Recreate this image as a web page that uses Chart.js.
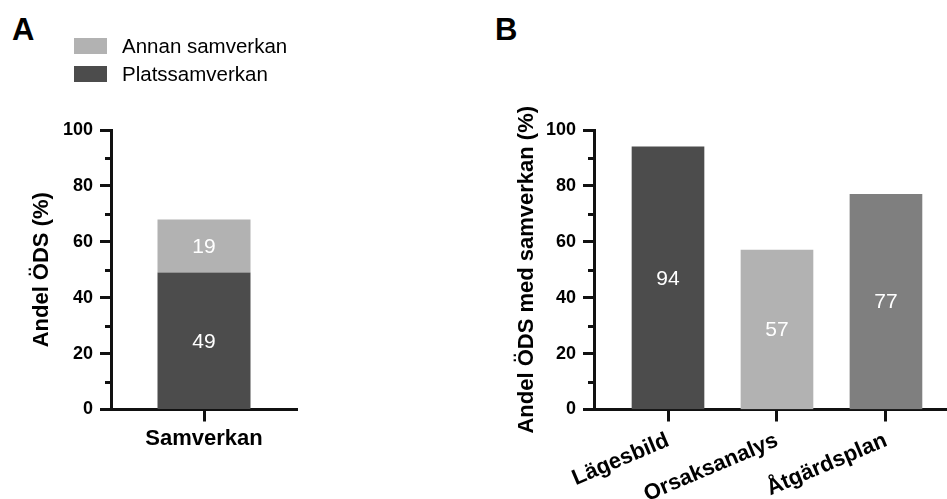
<!DOCTYPE html>
<html><head><meta charset="utf-8">
<script src="https://cdn.jsdelivr.net/npm/chart.js@4/dist/chart.umd.min.js"></script>
<style>
html,body{margin:0;padding:0;background:#fff;}
body{width:947px;height:499px;position:relative;overflow:hidden;font-family:"Liberation Sans",Arial,sans-serif;color:#000;}
#wa{position:absolute;left:0;top:0;width:320px;height:499px;}
#wb{position:absolute;left:470px;top:0;width:477px;height:499px;}
.panel{position:absolute;font-weight:bold;font-size:31px;line-height:30px;}
#legend{position:absolute;left:74px;top:38px;z-index:2;}
.li{display:flex;align-items:center;height:16px;margin-bottom:12px;font-size:20.5px;line-height:20px;white-space:nowrap;}
.sw{width:33px;height:16px;margin-right:15px;flex:none;}
</style></head>
<body>
<div class="panel" style="left:12px;top:15px">A</div>
<div class="panel" style="left:495px;top:15px">B</div>
<div id="legend"></div>
<div id="wa"><canvas id="ca"></canvas></div>
<div id="wb"><canvas id="cb"></canvas></div>
<script>
// ---- data ----
const categoriesA = ['Samverkan'];
const platssamverkan = [49];
const annanSamverkan = [19];
const categoriesB = ['Lägesbild', 'Orsaksanalys', 'Åtgärdsplan'];
const valuesB = [94, 57, 77];
const yTicks = [0, 20, 40, 60, 80, 100];
const yMinorTicks = [10, 30, 50, 70, 90];

// ---- style ----
const FONT = '"Liberation Sans", Arial, sans-serif';
const AXIS = '#111';
const DARK = '#4c4c4c', LIGHT = '#b2b2b2', MID = '#7f7f7f';
const colorsB = [DARK, LIGHT, MID];

const minorTicks = {
  id: 'minorTicks',
  afterDraw(chart) {
    const y = chart.scales.y, ctx = chart.ctx;
    const ax = chart.chartArea.left;
    ctx.save();
    ctx.strokeStyle = AXIS; ctx.lineWidth = 3; ctx.lineCap = 'butt';
    yMinorTicks.forEach(v => {
      const py = Math.round(y.getPixelForValue(v)) + 0.5;
      ctx.beginPath(); ctx.moveTo(ax - 6, py); ctx.lineTo(ax, py); ctx.stroke();
    });
    ctx.restore();
  }
};

const valueLabels = {
  id: 'valueLabels',
  afterDatasetsDraw(chart) {
    const ctx = chart.ctx;
    ctx.save();
    ctx.fillStyle = '#fff';
    ctx.font = '21px ' + FONT;
    ctx.textAlign = 'center'; ctx.textBaseline = 'middle';
    chart.data.datasets.forEach((ds, di) => {
      const meta = chart.getDatasetMeta(di);
      meta.data.forEach((el, i) => {
        const raw = ds.data[i];
        const v = (raw !== null && typeof raw === 'object') ? raw.y : raw;
        ctx.fillText(String(v), el.x, (el.y + el.base) / 2 + 1);
      });
    });
    ctx.restore();
  }
};

function yScale(text, padTop, width) {
  return {
    min: 0, max: 100,
    afterBuildTicks: s => { s.ticks = yTicks.map(v => ({ value: v })); },
    afterFit: s => { s.width = width; },
    border: { display: true, color: AXIS, width: 3 },
    grid: { drawOnChartArea: false, drawTicks: true, tickLength: 11, tickWidth: 3, tickColor: AXIS },
    ticks: { color: '#000', padding: 7, font: { family: FONT, size: 18, weight: 'bold' } },
    title: { display: true, text: text, color: '#000', font: { family: FONT, size: 22, weight: 'bold' }, padding: { top: padTop, bottom: 0 } }
  };
}

Chart.defaults.animation = false;

// ---- Panel A ----
const chartA = new Chart(document.getElementById('ca'), {
  type: 'bar',
  data: {
    labels: categoriesA,
    datasets: [
      { label: 'Platssamverkan', data: platssamverkan, backgroundColor: DARK, barPercentage: 0.5, categoryPercentage: 1 },
      { label: 'Annan samverkan', data: annanSamverkan, backgroundColor: LIGHT, barPercentage: 0.5, categoryPercentage: 1 }
    ]
  },
  options: {
    responsive: true, maintainAspectRatio: false,
    layout: { padding: { top: 130, right: 23, left: 0, bottom: 0 } },
    plugins: { legend: { display: false }, tooltip: { enabled: false } },
    scales: {
      x: {
        stacked: true,
        afterFit: s => { s.height = 89.5; },
        border: { display: true, color: AXIS, width: 3 },
        grid: { drawOnChartArea: false, offset: false, tickLength: 12, tickWidth: 3, tickColor: AXIS },
        ticks: { color: '#000', padding: 4, maxRotation: 0, font: { family: FONT, size: 22, weight: 'bold' } }
      },
      y: Object.assign(yScale('Andel ÖDS (%)', 29, 111), { stacked: true })
    }
  },
  plugins: [minorTicks, valueLabels]
});

// HTML legend built from chart A datasets (reversed: top = Annan samverkan)
(function () {
  const items = Chart.defaults.plugins.legend.labels.generateLabels(chartA).reverse();
  const host = document.getElementById('legend');
  items.forEach(it => {
    const row = document.createElement('div'); row.className = 'li';
    const sw = document.createElement('span'); sw.className = 'sw'; sw.style.background = it.fillStyle;
    const tx = document.createElement('span'); tx.textContent = it.text;
    row.appendChild(sw); row.appendChild(tx); host.appendChild(row);
  });
})();

// ---- Panel B ----
new Chart(document.getElementById('cb'), {
  type: 'bar',
  data: {
    datasets: [{
      label: 'Andel ÖDS med samverkan',
      data: valuesB.map((v, i) => ({ x: i, y: v })),
      backgroundColor: colorsB,
      barThickness: 72
    }]
  },
  options: {
    responsive: true, maintainAspectRatio: false,
    layout: { padding: { top: 130, right: 0, left: 0, bottom: 0 } },
    plugins: { legend: { display: false }, tooltip: { enabled: false } },
    scales: {
      x: {
        type: 'linear', min: -0.679, max: 2.56, offset: false,
        afterBuildTicks: s => { s.ticks = categoriesB.map((c, i) => ({ value: i })); },
        afterFit: s => { s.height = 89.5; },
        border: { display: true, color: AXIS, width: 3 },
        grid: { drawOnChartArea: false, offset: false, tickLength: 12, tickWidth: 3, tickColor: AXIS },
        ticks: {
          color: '#000', padding: 6, minRotation: 23, maxRotation: 23, autoSkip: false,
          callback: v => categoriesB[v],
          font: { family: FONT, size: 22, weight: 'bold' }
        }
      },
      y: yScale('Andel ÖDS med samverkan (%)', 44, 124)
    }
  },
  plugins: [minorTicks, valueLabels]
});
</script>
</body></html>
